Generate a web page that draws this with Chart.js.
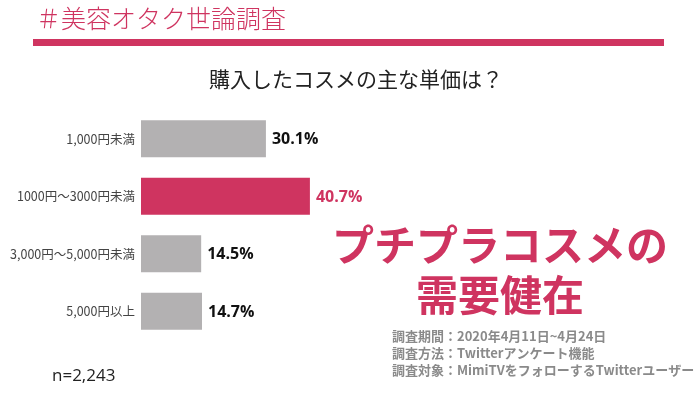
<!DOCTYPE html>
<html>
<head>
<meta charset="utf-8">
<script src="https://cdn.jsdelivr.net/npm/chart.js@4"></script>
<style>
  html, body { margin: 0; padding: 0; background: #fff; }
  #wrap { position: relative; width: 700px; height: 394px; }
</style>
</head>
<body>
<div id="wrap"><canvas id="chart" width="700" height="394"></canvas></div>
<script>
  // data
  const categories = ["1,000円未満", "1000円〜3000円未満", "3,000円〜5,000円未満", "5,000円以上"];
  const shares = [30.1, 40.7, 14.5, 14.7];
  const highlightIndex = 1;
  const notes = [
    "調査期間：2020年4月11日~4月24日",
    "調査方法：Twitterアンケート機能",
    "調査対象：MimiTVをフォローするTwitterユーザー",
  ];
  const sampleLabel = "n=2,243";

  const PINK = "#cf3460";
  const GRAY = "#b3b1b2";
  const JP = "'Noto Sans CJK JP', 'Noto Sans', sans-serif";

  const decorPlugin = {
    id: "decor",
    beforeDraw(chart) {
      const { ctx } = chart;
      ctx.save();
      ctx.fillStyle = "#fff";
      ctx.fillRect(0, 0, chart.width, chart.height);
      ctx.restore();
    },
    afterDraw(chart) {
      const { ctx } = chart;
      ctx.save();
      // header
      ctx.fillStyle = PINK;
      ctx.font = "300 25px " + JP;
      ctx.textBaseline = "middle";
      ctx.textAlign = "left";
      ctx.fillText("＃美容オタク世論調査", 36, 18);
      ctx.fillRect(33, 39, 631, 7);

      // title
      ctx.fillStyle = "#222";
      ctx.font = "21px " + JP;
      ctx.textAlign = "center";
      ctx.fillText("購入したコスメの主な単価は？", 356, 79);

      // callout
      ctx.fillStyle = PINK;
      ctx.font = "bold 42px " + JP;
      ctx.fillText("プチプラコスメの", 500, 245);
      ctx.fillText("需要健在", 500, 295);

      // notes
      ctx.fillStyle = "#8a8a8a";
      ctx.font = "bold 13px " + JP;
      ctx.textAlign = "left";
      notes.forEach((t, i) => ctx.fillText(t, 392, 336 + i * 17));

      // sample size
      ctx.fillStyle = "#222";
      ctx.font = "17px 'Open Sans', sans-serif";
      ctx.fillText(sampleLabel, 52, 376);
      ctx.restore();
    },
  };

  const valueLabelPlugin = {
    id: "valueLabels",
    afterDatasetsDraw(chart) {
      const { ctx } = chart;
      const meta = chart.getDatasetMeta(0);
      ctx.save();
      ctx.font = "bold 16px 'Open Sans', sans-serif";
      ctx.textAlign = "left";
      ctx.textBaseline = "middle";
      meta.data.forEach((bar, i) => {
        ctx.fillStyle = i === highlightIndex ? PINK : "#111";
        ctx.fillText(shares[i].toFixed(1) + "%", bar.x + 6, bar.y + 1);
      });
      ctx.restore();
    },
  };

  new Chart(document.getElementById("chart"), {
    type: "bar",
    data: {
      labels: categories,
      datasets: [
        {
          data: shares,
          backgroundColor: shares.map((_, i) => (i === highlightIndex ? PINK : GRAY)),
          borderWidth: 0,
          categoryPercentage: 1,
          barPercentage: 0.64,
        },
      ],
    },
    options: {
      indexAxis: "y",
      responsive: false,
      animation: false,
      devicePixelRatio: 1,
      layout: { padding: { left: 0, right: 144, top: 110, bottom: 54 } },
      plugins: { legend: { display: false }, tooltip: { enabled: false } },
      scales: {
        x: { min: 0, max: 100, display: false },
        y: {
          grid: { display: false, drawTicks: false },
          border: { display: false },
          ticks: {
            color: "#444",
            padding: 6,
            font: { family: "'Noto Sans CJK JP', sans-serif", size: 12.5 },
          },
          afterFit(scale) {
            scale.width = 141;
          },
        },
      },
    },
    plugins: [decorPlugin, valueLabelPlugin],
  });
</script>
</body>
</html>
